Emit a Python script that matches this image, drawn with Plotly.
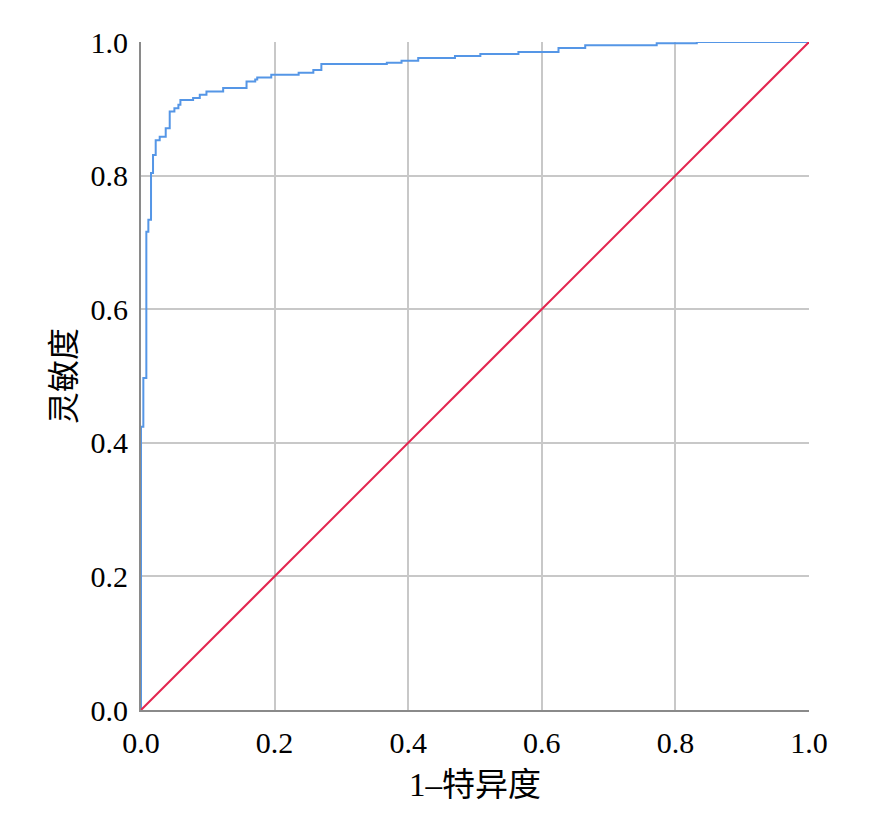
import plotly.graph_objects as go

# ROC curve vertices (1 - specificity, sensitivity)
fpr = [0.0, 0.0, 0.0035, 0.0035, 0.008, 0.008, 0.011, 0.011, 0.015, 0.015,
       0.018, 0.018, 0.022, 0.022, 0.028, 0.028, 0.037, 0.037, 0.043, 0.043,
       0.050, 0.050, 0.056, 0.056, 0.059, 0.059, 0.078, 0.078, 0.088, 0.088,
       0.098, 0.098, 0.123, 0.123, 0.158, 0.158, 0.171, 0.171, 0.174, 0.174,
       0.195, 0.195, 0.236, 0.236, 0.258, 0.258, 0.270, 0.270, 0.368, 0.368,
       0.390, 0.390, 0.415, 0.415, 0.470, 0.470, 0.508, 0.508, 0.565, 0.565,
       0.625, 0.625, 0.665, 0.665, 0.772, 0.772, 0.832, 0.832, 1.0]
tpr = [0.0, 0.424, 0.424, 0.497, 0.497, 0.716, 0.716, 0.734, 0.734, 0.804,
       0.804, 0.831, 0.831, 0.853, 0.853, 0.858, 0.858, 0.871, 0.871, 0.896,
       0.896, 0.901, 0.901, 0.906, 0.906, 0.913, 0.913, 0.916, 0.916, 0.921,
       0.921, 0.926, 0.926, 0.931, 0.931, 0.941, 0.941, 0.944, 0.944, 0.947,
       0.947, 0.951, 0.951, 0.954, 0.954, 0.958, 0.958, 0.967, 0.967, 0.969,
       0.969, 0.972, 0.972, 0.976, 0.976, 0.979, 0.979, 0.982, 0.982, 0.985,
       0.985, 0.991, 0.991, 0.995, 0.995, 0.998, 0.998, 1.0, 1.0]

ref_x = [0.0, 1.0]
ref_y = [0.0, 1.0]

tick_vals = [0.0, 0.2, 0.4, 0.6, 0.8, 1.0]
tick_text = ["0.0", "0.2", "0.4", "0.6", "0.8", "1.0"]

x_title = "1–特异度"
y_title = "灵敏度"

FONT = "'Liberation Serif', 'Times New Roman', 'Noto Sans CJK SC', serif"

fig = go.Figure()
fig.add_trace(go.Scatter(x=fpr, y=tpr, mode="lines",
                         line=dict(color="#5596e6", width=2), showlegend=False))
fig.add_trace(go.Scatter(x=ref_x, y=ref_y, mode="lines",
                         line=dict(color="#e3254f", width=2), showlegend=False))

axis_common = dict(
    range=[0, 1], tickvals=tick_vals, ticktext=tick_text,
    showgrid=True, gridcolor="#c8c8c8", gridwidth=2,
    zeroline=False, showline=True, linecolor="#8a8a8a", linewidth=2,
    layer="below traces", ticks="outside", ticklen=5, tickcolor="rgba(0,0,0,0)",
    tickfont=dict(family=FONT, size=30, color="#000"),
    mirror=False,
)

fig.update_layout(
    width=868, height=811,
    margin=dict(l=133, r=67, t=34, b=109),
    plot_bgcolor="white", paper_bgcolor="white",
    font=dict(family=FONT, color="#000"),
    xaxis=dict(**axis_common, title=dict(text=x_title, font=dict(family=FONT, size=33), standoff=15)),
    yaxis=dict(**axis_common, title=dict(text=y_title, font=dict(family=FONT, size=32), standoff=5)),
)

fig.write_html("out.html")
